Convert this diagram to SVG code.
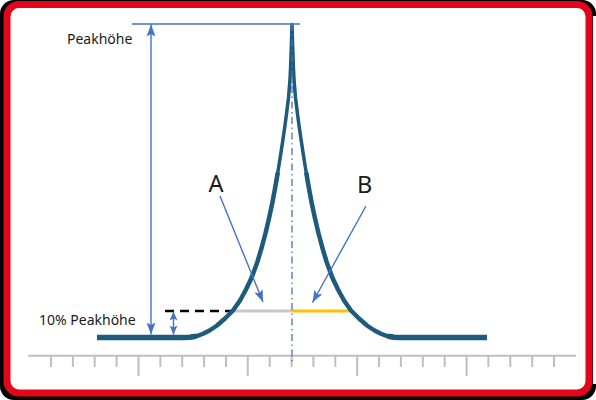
<svg xmlns="http://www.w3.org/2000/svg" width="596" height="400" viewBox="0 0 596 400">
<style>
.txt{font-family:"Noto Sans","Liberation Sans",sans-serif;fill:#1a1a1a}
.blue{stroke:#4472c4;stroke-width:1.4;fill:none}
.tick{stroke:#bfbfbf;stroke-width:2}
.pk{fill:none;stroke:#1d5b7c;stroke-linejoin:round}
</style>
<defs>
<marker id="ah" markerUnits="userSpaceOnUse" markerWidth="12" markerHeight="9" refX="12" refY="4.5" orient="auto-start-reverse">
<path d="M0,0 L12,4.5 L0,9 L2.5,4.5 Z" fill="#4472c4"/>
</marker>
<marker id="ahs" markerUnits="userSpaceOnUse" markerWidth="9" markerHeight="8" refX="9" refY="4" orient="auto-start-reverse">
<path d="M0,0 L9,4 L0,8 L2,4 Z" fill="#4472c4"/>
</marker>
</defs>
<g id="frame">
<rect x="0" y="0" width="596" height="400" fill="#ffffff"/>
<rect x="0" y="0" width="596" height="400" rx="14" fill="#000000"/>
<rect x="593" y="16" width="3" height="368" fill="#ffffff"/>
<rect x="7" y="4.5" width="582" height="388.5" rx="12" fill="#ffffff" stroke="#e3061a" stroke-width="7"/>
</g>
<g id="axis">
<line x1="28" y1="355.7" x2="576" y2="355.7" class="tick"/>
<path class="tick" d="M51,356V367 M72.9,356V367 M94.7,356V367 M116.6,356V367 M138.5,356V376 M160.4,356V367 M182.2,356V367 M204.1,356V367 M226,356V367 M247.8,356V376 M269.7,356V367 M291.6,356V367 M313.4,356V367 M335.3,356V367 M357.2,356V376 M379,356V367 M400.9,356V367 M422.8,356V367 M444.7,356V367 M466.6,356V376 M488.4,356V367 M510.3,356V367 M532.2,356V367 M554,356V367"/>
</g>
<g id="levels">
<line x1="165" y1="311" x2="233" y2="311" stroke="#000000" stroke-width="2.5" stroke-dasharray="9,6"/>
<line x1="233" y1="311" x2="292" y2="311" stroke="#c8c8c8" stroke-width="3"/>
<line x1="292" y1="311" x2="351.5" y2="311" stroke="#ffc000" stroke-width="3"/>
</g>
<g id="peak">
<path class="pk" stroke-width="3.5" d="M275.2,187.5 L277.8,172.5 L280.2,157.5 L282.5,142.5 L284.7,127.5 L286.7,112.5 L288.5,97.5 L289.8,82.5 L290.6,67.5 L291.3,47.5 L292,24.5 L292.7,47.5 L293.4,67.5 L294.2,82.5 L295.5,97.5 L297.3,112.5 L299.3,127.5 L301.5,142.5 L303.8,157.5 L306.2,172.5 L308.8,187.5"/>
<path class="pk" stroke-width="4.5" d="M190,337.3 L196,336.3 L202.5,334 L209.5,330.5 L217,325.5 L225,318.5 L233,310.5 L240,300.5 L246,289.5 L251.7,277.5 L257.2,262.5 L261.7,247.5 L265.7,232.5 L269.2,217.5 L272.4,202.5 L275.2,187.5 L277.8,172.5"/>
<path class="pk" stroke-width="4.5" d="M394,337.3 L388,336.3 L381.5,334 L374.5,330.5 L367,325.5 L359,318.5 L351,310.5 L344,300.5 L338,289.5 L332.3,277.5 L326.8,262.5 L322.3,247.5 L318.3,232.5 L314.8,217.5 L311.6,202.5 L308.8,187.5 L306.2,172.5"/>
<path class="pk" stroke-width="5.5" d="M97,337.5 L184,337.5 L190,337.3 L196,336.3"/>
<path class="pk" stroke-width="5.5" d="M388,336.3 L394,337.3 L400,337.5 L487,337.5"/>
</g>
<g id="connectors">
<line x1="132" y1="24" x2="300" y2="24" stroke="#4472c4" stroke-width="1.5"/>
<line x1="292" y1="24" x2="292" y2="362" stroke="#4472c4" stroke-width="1.3" stroke-dasharray="7,3.5,1.5,3.5"/>
<line class="blue" x1="151" y1="24.5" x2="151" y2="334.5" marker-start="url(#ah)" marker-end="url(#ah)"/>
<line class="blue" x1="173.5" y1="311.5" x2="173.5" y2="334.5" marker-start="url(#ahs)" marker-end="url(#ahs)"/>
<line class="blue" x1="220" y1="196" x2="263" y2="302" marker-end="url(#ah)"/>
<line class="blue" x1="366" y1="206" x2="312.5" y2="302.5" marker-end="url(#ah)"/>
</g>
<g id="labels">
<text class="txt" x="67" y="44" font-size="14">Peakhöhe</text>
<text class="txt" x="39" y="325" font-size="14">10% Peakhöhe</text>
<text class="txt" x="208.5" y="192" font-size="23.5">A</text>
<text class="txt" x="357" y="192.5" font-size="23.5">B</text>
</g>
</svg>
